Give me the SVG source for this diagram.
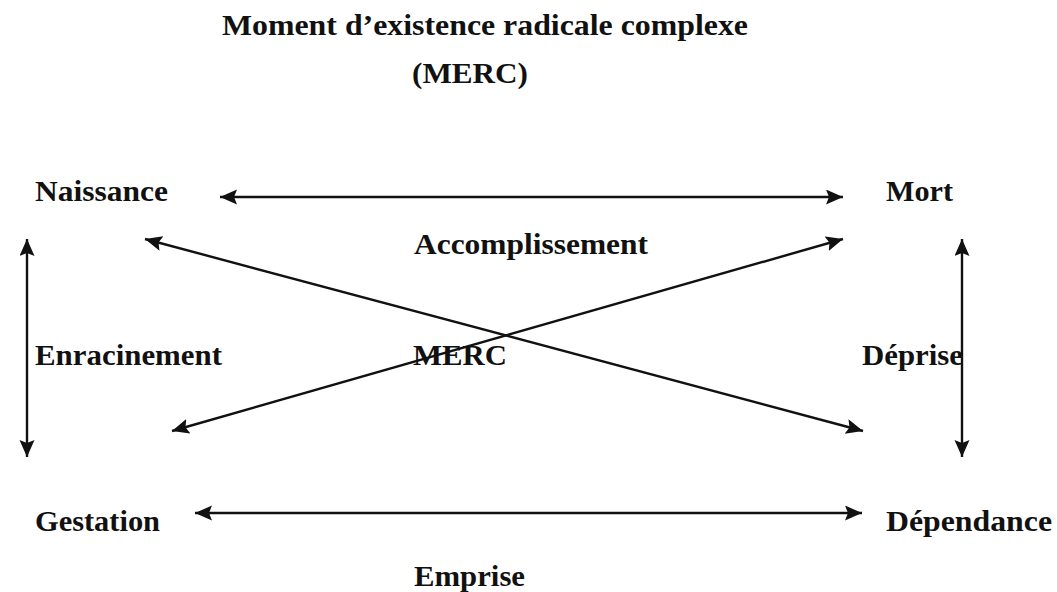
<svg xmlns="http://www.w3.org/2000/svg" width="1057" height="592" viewBox="0 0 1057 592">
  <style>
    .t { font-family: "Liberation Serif", "Times New Roman", serif; font-weight: bold; font-size: 30px; fill: #111; }
    .c { stroke: #111; stroke-width: 2.4; fill: none; marker-start: url(#ah); marker-end: url(#ah); }
  </style>
  <defs>
    <marker id="ah" markerUnits="userSpaceOnUse" markerWidth="18" markerHeight="16" refX="17" refY="7.5" orient="auto-start-reverse">
      <path d="M0,0 L17,7.5 L0,15 L3,7.5 z" fill="#111"/>
    </marker>
  </defs>
  <rect width="1057" height="592" fill="#fff"/>
  <g id="title">
    <text class="t" x="222" y="35" textLength="526" lengthAdjust="spacingAndGlyphs">Moment d’existence radicale complexe</text>
    <text class="t" x="412" y="83" textLength="116" lengthAdjust="spacingAndGlyphs">(MERC)</text>
  </g>
  <g id="connectors">
    <line class="c" x1="220" y1="197" x2="843" y2="197"/>
    <line class="c" x1="195" y1="513" x2="862" y2="513"/>
    <line class="c" x1="27" y1="239" x2="27" y2="457"/>
    <line class="c" x1="962" y1="239" x2="962" y2="457"/>
    <line class="c" x1="145" y1="239" x2="863" y2="431"/>
    <line class="c" x1="172" y1="431" x2="843" y2="239"/>
  </g>
  <g id="naissance"><text class="t" x="35" y="201" textLength="133" lengthAdjust="spacingAndGlyphs">Naissance</text></g>
  <g id="mort"><text class="t" x="886" y="201" textLength="67" lengthAdjust="spacingAndGlyphs">Mort</text></g>
  <g id="accomplissement"><text class="t" x="414" y="254" textLength="234" lengthAdjust="spacingAndGlyphs">Accomplissement</text></g>
  <g id="enracinement"><text class="t" x="35" y="365" textLength="187" lengthAdjust="spacingAndGlyphs">Enracinement</text></g>
  <g id="merc"><text class="t" x="413" y="365" textLength="94" lengthAdjust="spacingAndGlyphs">MERC</text></g>
  <g id="deprise"><text class="t" x="862" y="365" textLength="101" lengthAdjust="spacingAndGlyphs">Déprise</text></g>
  <g id="gestation"><text class="t" x="35" y="531" textLength="125" lengthAdjust="spacingAndGlyphs">Gestation</text></g>
  <g id="dependance"><text class="t" x="886" y="531" textLength="166" lengthAdjust="spacingAndGlyphs">Dépendance</text></g>
  <g id="emprise"><text class="t" x="414" y="586" textLength="111" lengthAdjust="spacingAndGlyphs">Emprise</text></g>
</svg>
